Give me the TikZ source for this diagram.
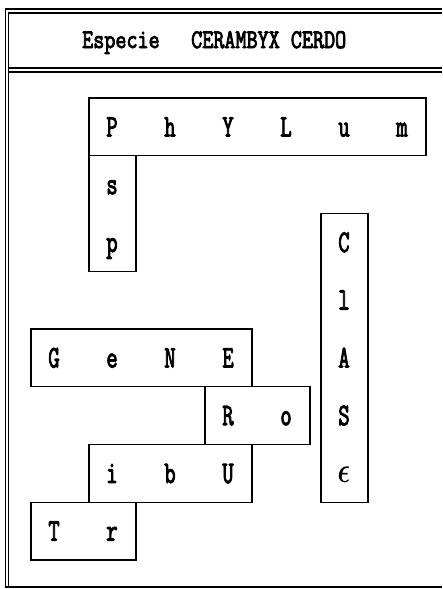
\documentclass[tikz,border=0pt]{standalone}
\usepackage{amsmath}
\usepackage{fontspec}
\usepackage{graphicx}
\newfontfamily\monof{Latin Modern Mono}[FakeBold=3.5]
\newcommand\tallA[1]{\scalebox{1}[1.42]{#1}}
\newcommand\tallB[1]{\scalebox{1}[1.25]{#1}}
\tikzset{
  cellbox/.style={draw=black, line width=1.3pt},
  frameline/.style={draw=black, line width=1.1pt},
  glyph/.style={inner sep=0pt, anchor=base, font=\monof\fontsize{22}{22}\selectfont},
  headtxt/.style={inner sep=0pt, anchor=base west, font=\monof\fontsize{21.5}{21.5}\selectfont},
}
\begin{document}
\begin{tikzpicture}[x=1pt,y=-1pt]
\useasboundingbox (0,0) rectangle (442,589);
\fill[white] (0,0) rectangle (442,589);
% frame
\draw[frameline] (5.5,8) -- (5.5,587.5);
\draw[frameline] (8.5,13) -- (8.5,587.5);
\draw[frameline] (5,9) -- (442,9);
\draw[frameline] (8,13) -- (442,13);
\draw[frameline] (8,68) -- (442,68);
\draw[frameline] (8,72) -- (442,72);
\draw[frameline, line width=1.4pt] (5,587) -- (442,587);
% header
\node[headtxt] (hesp) at (82,48) {\tallB{Especie}};
\node[headtxt] (hname) at (191,48) {\tallB{CERAMBYX CERDO}};
% boxes
\draw[cellbox] (89,98) rectangle (426,155.75);
\draw[cellbox] (89,155.75) rectangle (136,271.25);
\draw[cellbox] (321,213.5) rectangle (368,502.25);
\draw[cellbox] (31,329) rectangle (252,386.75);
\draw[cellbox] (205,386.75) rectangle (310,444.5);
\draw[cellbox] (89,444.5) rectangle (252,502.25);
\draw[cellbox] (31,502.25) rectangle (136,560);
% PhYLum
\node[glyph] (ph1) at (112,136.4) {\tallA{P}};
\node[glyph] (ph2) at (170,136.4) {\tallA{h}};
\node[glyph] (ph3) at (228,136.4) {\tallA{Y}};
\node[glyph] (ph4) at (286,136.4) {\tallA{L}};
\node[glyph] (ph5) at (344,136.4) {\tallA{u}};
\node[glyph] (ph6) at (402,136.4) {\tallA{m}};
% sp
\node[glyph] (sp1) at (112,194.1) {\tallA{s}};
\node[glyph] (sp2) at (112,251.9) {\tallA{p}};
% ClASe
\node[glyph] (cl1) at (344,251.9) {\tallA{C}};
\node[glyph] (cl2) at (344,309.6) {\tallA{l}};
\node[glyph] (cl3) at (344,367.4) {\tallA{A}};
\node[glyph] (cl4) at (344,425.1) {\tallA{S}};
\node[glyph] (cl5) at (344,482.9) {\scalebox{1.25}[1.7]{$\boldsymbol{\epsilon}$}};
% GeNERo
\node[glyph] (ge1) at (54,367.4) {\tallA{G}};
\node[glyph] (ge2) at (112,367.4) {\tallA{e}};
\node[glyph] (ge3) at (170,367.4) {\tallA{N}};
\node[glyph] (ge4) at (228,367.4) {\tallA{E}};
\node[glyph] (ge5) at (228,425.1) {\tallA{R}};
\node[glyph] (ge6) at (286,425.1) {\tallA{o}};
% TribU
\node[glyph] (tr3) at (112,482.9) {\tallA{i}};
\node[glyph] (tr4) at (170,482.9) {\tallA{b}};
\node[glyph] (tr5) at (228,482.9) {\tallA{U}};
\node[glyph] (tr1) at (54,540.6) {\tallA{T}};
\node[glyph] (tr2) at (112,540.6) {\tallA{r}};
\end{tikzpicture}
\end{document}
